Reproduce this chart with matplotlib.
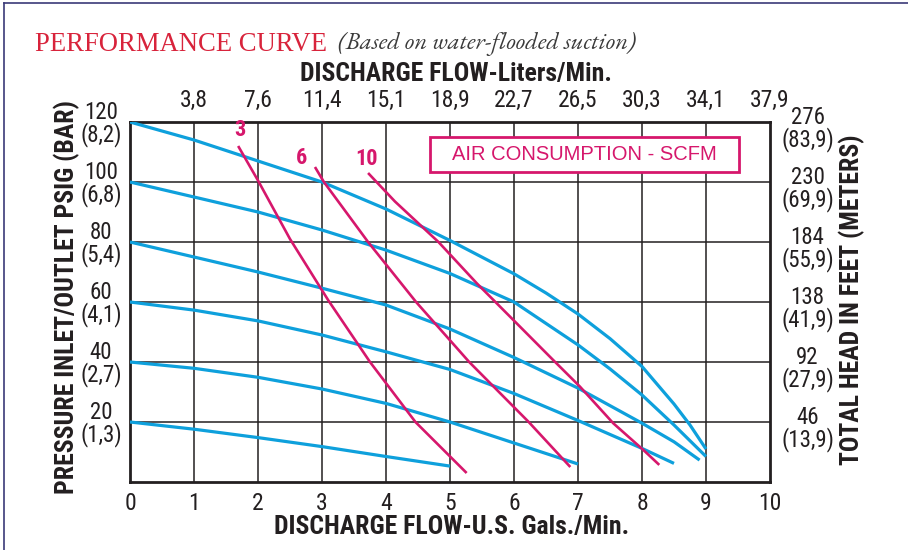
import matplotlib
matplotlib.use("Agg")
import matplotlib.pyplot as plt
from matplotlib import font_manager as fm
from matplotlib.patches import Rectangle
from matplotlib.lines import Line2D
import matplotlib.transforms as mtrans

# ---------------- data ----------------
gpm_ticks = [0, 1, 2, 3, 4, 5, 6, 7, 8, 9, 10]
lpm_ticks = [1, 2, 3, 4, 5, 6, 7, 8, 9, 10]
lpm_labels = ["3,8", "7,6", "11,4", "15,1", "18,9", "22,7", "26,5", "30,3", "34,1", "37,9"]
psig_ticks = [20, 40, 60, 80, 100, 120]
psig_labels = ["20\n(1,3)", "40\n(2,7)", "60\n(4,1)", "80\n(5,4)", "100\n(6,8)", "120\n(8,2)"]
head_labels = ["46\n(13,9)", "92\n(27,9)", "138\n(41,9)", "184\n(55,9)", "230\n(69,9)", "276\n(83,9)"]

# pump performance curves (flow gpm, pressure psig)
p120_x = [0, 1, 2, 3, 4, 5, 6, 6.5, 7, 7.5, 8, 8.5, 8.75, 9]
p120_y = [120, 114, 107, 100, 91, 80.5, 69.4, 63, 56, 47.8, 38.5, 26, 19, 11]
p100_x = [0, 1, 2, 3, 4, 5, 6, 7, 7.5, 8, 8.5, 9]
p100_y = [100, 95, 90, 84, 77.3, 69.5, 60, 45.7, 37.7, 29, 19, 8.5]
p80_x = [0, 1, 2, 3, 4, 5, 6, 7, 8, 8.5, 8.9]
p80_y = [80, 75, 70, 64.6, 59, 51, 41.5, 31.3, 19.6, 13.4, 7.3]
p60_x = [0, 1, 2, 3, 4, 5, 6, 7, 8, 8.5]
p60_y = [60, 57.3, 53.7, 49, 43.4, 37.5, 29.5, 20.5, 11.2, 6.2]
p40_x = [0, 1, 2, 3, 4, 5, 6, 7]
p40_y = [40, 37.9, 34.9, 31, 26.2, 20, 13, 6]
p20_x = [0, 1, 2, 3, 4, 5]
p20_y = [20, 17.6, 14.8, 11.8, 8.5, 5.3]

# air consumption lines (SCFM)
air3_x = [1.69, 2.0, 2.5, 3.1, 3.75, 4.46, 5.26]
air3_y = [112, 100.5, 81, 60.5, 40, 20, 3]
air6_x = [2.89, 3.03, 3.72, 4.47, 5.3, 6.23, 6.88]
air6_y = [105, 100, 80, 60, 40, 20, 5]
air10_x = [3.72, 4.14, 4.82, 5.42, 5.99, 6.61, 7.03, 7.55, 8.02, 8.27]
air10_y = [103, 93.5, 80, 66.2, 54, 40.7, 31.8, 19.6, 10.7, 5.7]
air_labels = ["3", "6", "10"]

# ---------------- fonts ----------------
names = {f.name for f in fm.fontManager.ttflist}

def pick(*cands):
    for c in cands:
        if c in names:
            return c
    return "DejaVu Sans"

NARROW = pick("Liberation Sans Narrow", "Roboto Condensed", "Archivo Narrow", "PT Sans Narrow", "Liberation Sans")
SANS = pick("Liberation Sans", "Arimo", "DejaVu Sans")
SERIF = pick("Liberation Serif", "DejaVu Serif")
ITAL = pick("EB Garamond", "Liberation Serif", "DejaVu Serif")

BLUE = "#0ea0dc"
PINK = "#d6176c"
RED = "#d8233b"
INK = "#231f20"

W, H, DPI = 908, 550, 100
fig = plt.figure(figsize=(W / DPI, H / DPI), dpi=DPI)
fig.patch.set_facecolor("white")

def px(x, y):
    return x / W, 1 - y / H

L, T, R, B = 130, 122, 770, 482
ax = fig.add_axes([L / W, 1 - B / H, (R - L) / W, (B - T) / H])
ax.set_xlim(0, 10)
ax.set_ylim(0, 120)

for x in range(1, 10):
    ax.axvline(x, color=INK, lw=1.1, zorder=1)
for y in range(20, 120, 20):
    ax.axhline(y, color=INK, lw=1.1, zorder=1)
for s in ax.spines.values():
    s.set_linewidth(2.0)
    s.set_color(INK)

# curves
for xs, ys in [(p120_x, p120_y), (p100_x, p100_y), (p80_x, p80_y),
               (p60_x, p60_y), (p40_x, p40_y), (p20_x, p20_y)]:
    ax.plot(xs, ys, color=BLUE, lw=2.3, solid_capstyle="butt", solid_joinstyle="round", zorder=3)

offsets = [(2, 16), (-13, 9), (-2, 14)]
for (xs, ys), lab, off in zip([(air3_x, air3_y), (air6_x, air6_y), (air10_x, air10_y)], air_labels, offsets):
    ax.plot(xs, ys, color=PINK, lw=1.9, solid_capstyle="butt", solid_joinstyle="round", zorder=4)
    ax.annotate(lab, (xs[0], ys[0]), xytext=off, textcoords="offset pixels",
                ha="center", va="center", color=PINK, fontsize=16, fontweight="bold",
                family=NARROW, zorder=5)

# air consumption box
bx0, by0 = (430 - L) / (R - L), (B - 172) / (B - T)
bw, bh = (739 - 430) / (R - L), (172 - 137) / (B - T)
ax.add_patch(Rectangle((bx0, by0), bw, bh, transform=ax.transAxes, facecolor="white",
                       edgecolor=PINK, lw=2.0, zorder=6))
ax.text(bx0 + bw / 2, by0 + bh / 2, "AIR CONSUMPTION - SCFM", transform=ax.transAxes,
        ha="center", va="center", color=PINK, fontsize=14.5, family=SANS, zorder=7)

# bottom x ticks
ax.set_xticks(gpm_ticks)
ax.set_xticklabels([str(v) for v in gpm_ticks], family=NARROW, fontsize=17, color=INK)
ax.tick_params(axis="x", length=0, pad=7)
# left y ticks
ax.set_yticks(psig_ticks)
ax.set_yticklabels(psig_labels, family=NARROW, fontsize=16.5, color=INK, linespacing=0.92,
                   multialignment="center")
ax.tick_params(axis="y", length=0, pad=6)

# top axis (liters/min)
axt = ax.twiny()
axt.set_xlim(ax.get_xlim())
axt.set_xticks(lpm_ticks)
axt.set_xticklabels(lpm_labels, family=NARROW, fontsize=17, color=INK)
axt.tick_params(axis="x", length=0, pad=7)
# right axis (head feet / meters)
axr = ax.twinx()
axr.set_ylim(ax.get_ylim())
axr.set_yticks(psig_ticks)
axr.set_yticklabels(head_labels, family=NARROW, fontsize=16.5, color=INK, linespacing=0.92,
                    multialignment="center")
axr.tick_params(axis="y", length=0, pad=27)
shift = mtrans.ScaledTranslation(0, -5 / DPI, fig.dpi_scale_trans)
for lbl in axr.get_yticklabels():
    lbl.set_horizontalalignment("center")
    lbl.set_transform(lbl.get_transform() + shift)
for a in (axt, axr):
    for s in a.spines.values():
        s.set_visible(False)

# axis titles
fig.text(*px(456, 74), "DISCHARGE FLOW-Liters/Min.", ha="center", va="center",
         family=NARROW, fontweight="bold", fontsize=18.5, color=INK)
fig.text(*px(452, 527), "DISCHARGE FLOW-U.S. Gals./Min.", ha="center", va="center",
         family=NARROW, fontweight="bold", fontsize=18.5, color=INK)
fig.text(*px(67, 297), "PRESSURE INLET/OUTLET PSIG (BAR)", ha="center", va="center",
         rotation=90, family=NARROW, fontweight="bold", fontsize=18.5, color=INK)
fig.text(*px(852, 300), "TOTAL HEAD IN FEET (METERS)", ha="center", va="center",
         rotation=90, family=NARROW, fontweight="bold", fontsize=18.5, color=INK)

# title
fig.text(*px(35, 51), "PERFORMANCE CURVE", ha="left", va="baseline",
         family=SERIF, fontsize=19.2, color=RED)
fig.text(*px(338, 49), "(Based on water-flooded suction)", ha="left", va="baseline",
         family=ITAL, style="italic", fontsize=17.8, color="#3a3a3a")

# outer frame fragments (left & top)
fig.add_artist(Line2D([4 / W, 4 / W], [0, 1 - 3 / H], transform=fig.transFigure, color="#3b3a78", lw=1.2))
fig.add_artist(Line2D([4 / W, 1], [1 - 3 / H, 1 - 3 / H], transform=fig.transFigure, color="#3b3a78", lw=1.2))

fig.savefig("out.png", dpi=DPI)
